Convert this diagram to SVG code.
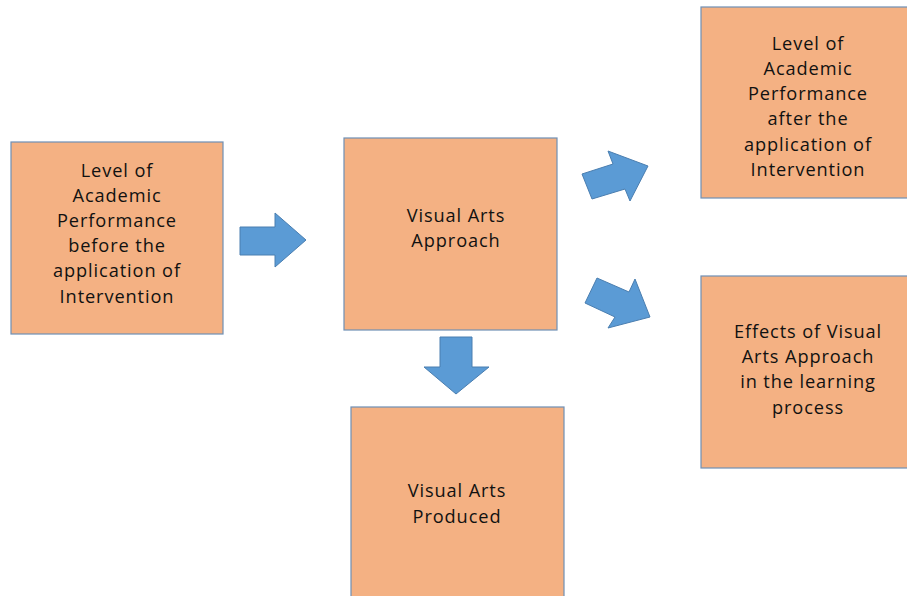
<svg xmlns="http://www.w3.org/2000/svg" width="907" height="596" viewBox="0 0 907 596">
<style>
.box{fill:#F4B183;stroke:#6E8FB5;stroke-width:1.2}
.arr{fill:#5B9BD5;stroke:#4A7EB0;stroke-width:1}
text{font-family:"Open Sans","Liberation Sans",sans-serif;font-size:18.2px;letter-spacing:0.9px;fill:#111;text-anchor:middle}
</style>
<rect width="907" height="596" fill="#fff"/>
<g id="n-before">
<rect class="box" x="11" y="142" width="212" height="192"/>
<text x="117" y="177">Level of<tspan x="117" dy="25">Academic</tspan><tspan x="117" dy="25">Performance</tspan><tspan x="117" dy="25">before the</tspan><tspan x="117" dy="25">application of</tspan><tspan x="117" dy="26">Intervention</tspan></text>
</g>
<g id="n-approach">
<rect class="box" x="344" y="138" width="213" height="192"/>
<text x="456" y="222">Visual Arts<tspan x="456" dy="25">Approach</tspan></text>
</g>
<g id="n-after">
<rect class="box" x="701" y="7" width="210" height="191"/>
<text x="808" y="50">Level of<tspan x="808" dy="25">Academic</tspan><tspan x="808" dy="25">Performance</tspan><tspan x="808" dy="25">after the</tspan><tspan x="808" dy="26">application of</tspan><tspan x="808" dy="25">Intervention</tspan></text>
</g>
<g id="n-effects">
<rect class="box" x="701" y="276" width="210" height="192"/>
<text x="808" y="338">Effects of Visual<tspan x="808" dy="25">Arts Approach</tspan><tspan x="808" dy="25">in the learning</tspan><tspan x="808" dy="26">process</tspan></text>
</g>
<g id="n-produced">
<rect class="box" x="351" y="407" width="213" height="195"/>
<text x="457" y="497">Visual Arts<tspan x="457" dy="26">Produced</tspan></text>
</g>
<g id="connectors">
<polygon class="arr" points="240,227 275,227 275,213 306,240 275,267 275,255 240,255"/>
<polygon class="arr" points="440,337 472,337 472,367 489,367 456,394 424,367 440,367"/>
<polygon class="arr" points="582,174 613,164 608,151 648,166 630,201 625,189 592,199"/>
<polygon class="arr" points="597,278 629,292 635,279 650,317 608,328 615,317 585,303"/>
</g>
</svg>
